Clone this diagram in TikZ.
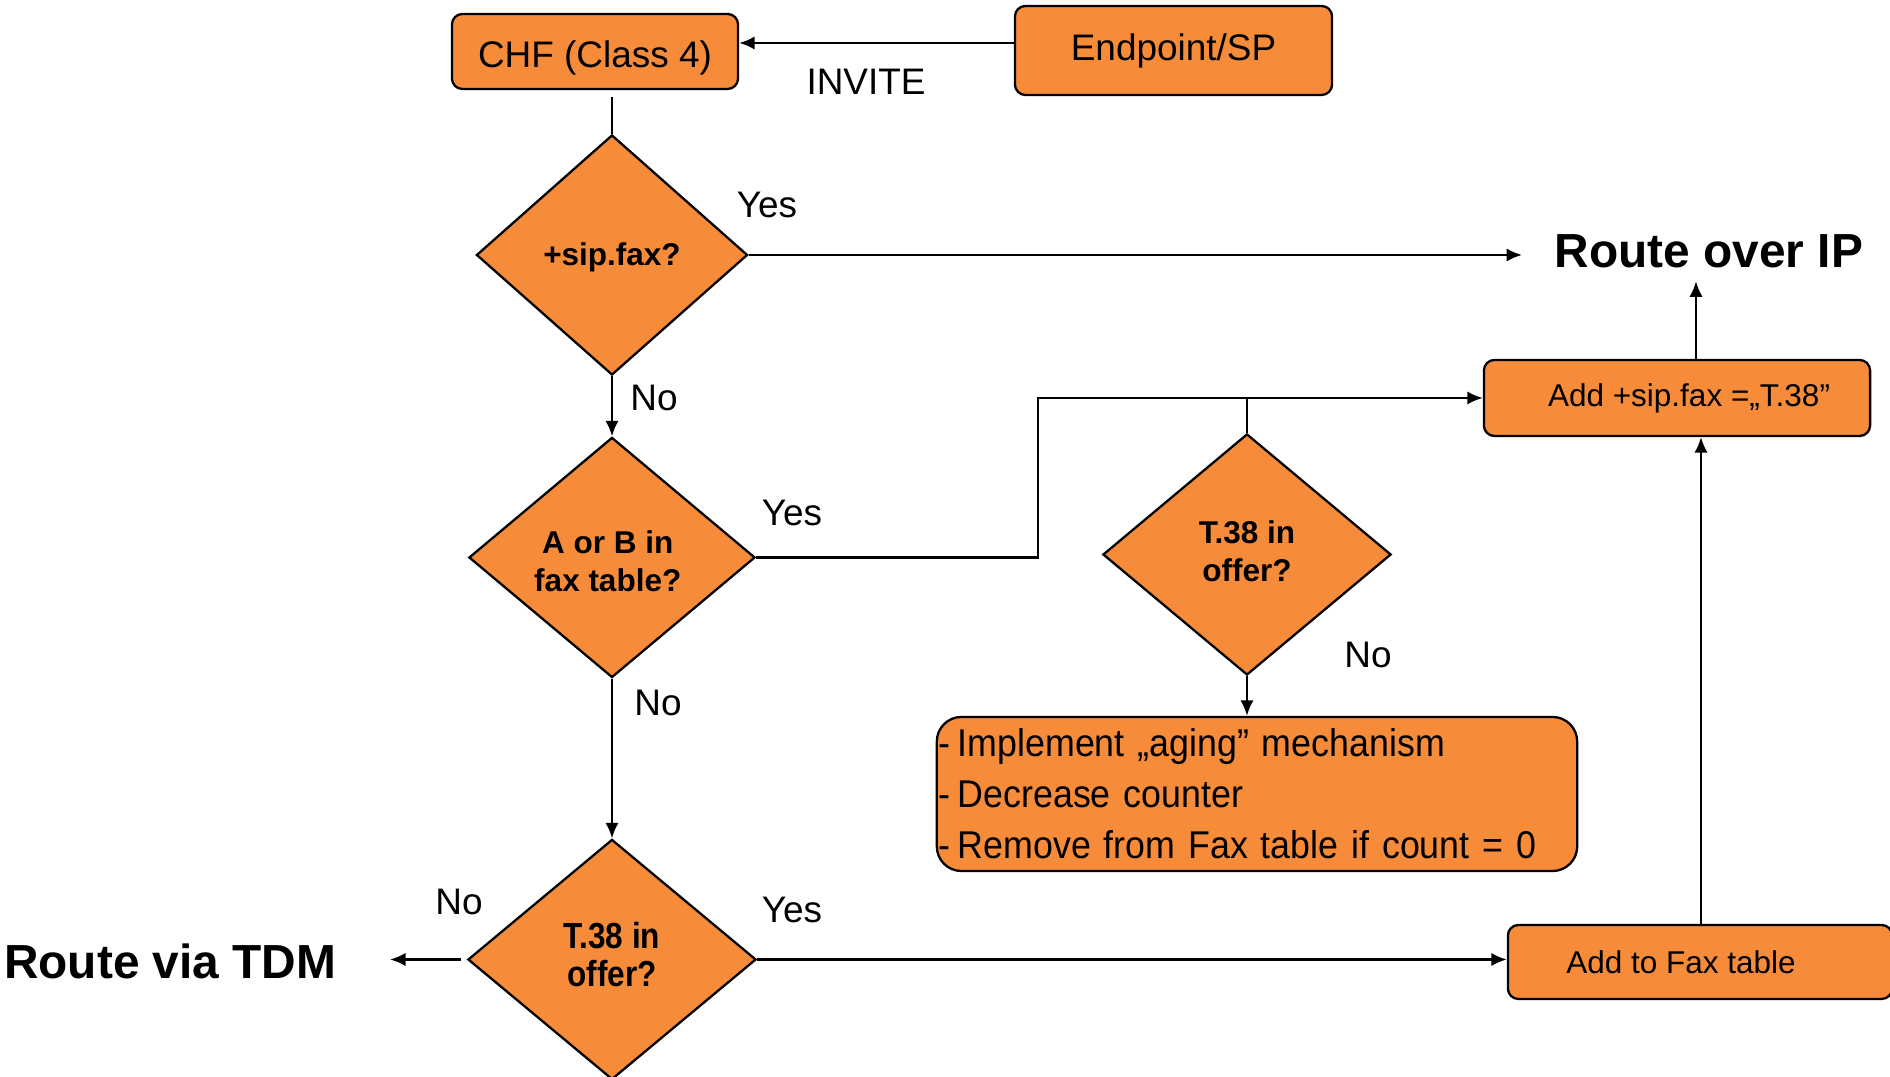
\documentclass[tikz,border=0pt]{standalone}
\usepackage{fontspec}
\setmainfont{Liberation Sans}
\newfontfamily\agingfont[FakeStretch=0.925]{Liberation Sans}
\newfontfamily\tallfont[FakeStretch=0.87]{Liberation Sans}
\usetikzlibrary{shapes.geometric,arrows.meta,calc}
\definecolor{boxorange}{HTML}{F68B3A}

% type sizes
\newcommand\fsreg{\fontsize{10.5pt}{12.6pt}\selectfont}
\newcommand\fsbold{\fontsize{8.96pt}{10.7pt}\selectfont\bfseries}
\newcommand\fstall{\tallfont\fontsize{10.3pt}{11pt}\selectfont\bfseries}
\newcommand\fssmall{\fontsize{8.96pt}{10.8pt}\selectfont}
\newcommand\fsbig{\fontsize{13.6pt}{16.3pt}\selectfont\bfseries}
\newcommand\fsaging{\agingfont\fontsize{11pt}{14.5pt}\selectfont}

\begin{document}
\begin{tikzpicture}[x=0.01cm,y=-0.01cm,
  every node/.style={font=\fsreg},
  rbox/.style={draw=black, line width=0.65pt, fill=boxorange, rounded corners=3pt, inner sep=0pt},
  dec/.style={diamond, draw=black, line width=0.65pt, fill=boxorange, inner sep=0pt},
  dectext/.style={font=\fsbold, align=center, inner sep=0pt},
  conn/.style={line width=0.65pt},
  arr/.style={conn, -{Latex[length=4.4pt,width=3.8pt]}},
  lbl/.style={inner sep=0pt},
  big/.style={font=\fsbig, inner sep=0pt}]

\useasboundingbox (0,0) rectangle (1890,1077);

% process boxes
\node[rbox, minimum width=2.86cm, minimum height=0.75cm,
      label={[lbl, yshift=-1.7pt]center:CHF (Class 4)}] (chf) at (595,51.5) {};
\node[rbox, minimum width=3.17cm, minimum height=0.89cm] (ep) at (1173.5,50.5) {Endpoint/SP};
\node[rbox, minimum width=3.86cm, minimum height=0.76cm, font=\fssmall] (sip) at (1677,398)
  {\hspace*{0.24cm}Add +sip.fax =„T.38”};
\node[rbox, minimum width=3.84cm, minimum height=0.74cm, font=\fssmall] (fax) at (1700,962)
  {Add to Fax table\hspace*{0.38cm}};
\node[rbox, rounded corners=7pt, minimum width=6.40cm, minimum height=1.54cm,
      text width=6.36cm, align=left, font=\fsaging] (age) at (1257,794)
  {-\kern2pt Implement „aging” mechanism\\-\kern2pt Decrease counter\\-\kern2pt Remove from Fax table if count = 0};

% decisions
\node[dec, minimum width=2.71cm, minimum height=2.40cm,
      label={[dectext, yshift=-0.7pt]center:+sip.fax?}] (d1) at (612,255) {};
\node[dec, minimum width=2.86cm, minimum height=2.40cm,
      label={[dectext, yshift=-1pt, xshift=-1.2pt]center:A or B in\\fax table?}] (d2) at (612,557.5) {};
\node[dec, minimum width=2.88cm, minimum height=2.41cm,
      label={[dectext, yshift=1pt]center:T.38 in\\offer?}] (d3) at (1247,554.5) {};
\node[dec, minimum width=2.88cm, minimum height=2.40cm,
      label={[dectext, font=\fstall, yshift=1.4pt]center:T.38 in\\offer?}] (d4) at (612,959.5) {};

% outcomes
\node[big, anchor=west] (ip) at (1554,251) {Route over IP};
\node[big, anchor=east] (tdm) at (337,961) {Route via TDM};

% connector labels
\node[lbl] (inv) at (866,82) {INVITE};
\node[lbl] (y1) at (767,205) {Yes};
\node[lbl] (n1) at (654,398) {No};
\node[lbl] (y2) at (792,513) {Yes};
\node[lbl] (n3) at (1368,655) {No};
\node[lbl] (n2) at (658,703) {No};
\node[lbl] (n4) at (459,902) {No};
\node[lbl] (y4) at (792,910) {Yes};

% helper positions
\coordinate (invy) at (0,43);
\coordinate (jog) at (1038,398);
\coordinate (upx) at (1701,0);
\coordinate (upx2) at (1696,0);

% connectors
\draw[arr] (ep.west |- invy) -- (chf.east |- invy);
\draw[conn] ($(d1.north |- chf.south)+(0,7)$) -- (d1.north);
\draw[arr, shorten >=0.32cm] (d1.east) -- (d1.east -| ip.west);
\draw[arr] (d1.south) -- (d2.north);
\draw[arr] (d2.east) -| (jog) -- (sip.west);
\draw[conn] (d3.north) -- (d3.north |- sip.west);
\draw[arr] (d3.south) -- (d3.south |- age.north);
\draw[arr] (d2.south) -- (d4.north);
\draw[arr, shorten <=0.06cm, shorten >=0.53cm] (d4.west) -- (d4.west -| tdm.east);
\draw[arr] (d4.east) -- (d4.east -| fax.west);
\draw[arr] (upx |- fax.north) -- (upx |- sip.south);
\draw[arr, shorten >=0.13cm] (upx2 |- sip.north) -- (upx2 |- ip.south);

\end{tikzpicture}
\end{document}
